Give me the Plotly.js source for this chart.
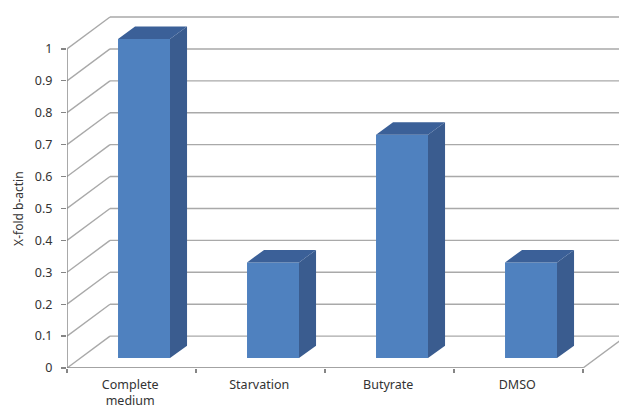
<!DOCTYPE html>
<html>
<head>
<meta charset="utf-8">
<script src="https://cdn.plot.ly/plotly-3.0.1.min.js"></script>
<style>html,body{margin:0;padding:0;background:#fff;overflow:hidden}</style>
</head>
<body>
<div id="chart" style="width:619px;height:409px"></div>
<script>
const categories = ['Complete<br>medium', 'Starvation', 'Butyrate', 'DMSO'];
const values = [1, 0.3, 0.7, 0.3];
const yTicks = [0, 0.1, 0.2, 0.3, 0.4, 0.5, 0.6, 0.7, 0.8, 0.9, 1];
const yTickText = ['0', '0.1', '0.2', '0.3', '0.4', '0.5', '0.6', '0.7', '0.8', '0.9', '1'];

const wallDX = 1 / 3, wallDY = 0.1;
const barInsetY = 0.031;
const barDX = 0.132, barDY = 0.039;
const barWidth = 0.403, barCentre = 0.597;
const xMax = 4.279, yMax = 1.122;
const nCat = categories.length;
const gridColor = '#a9a9a9', axisColor = '#858585';

const xs = categories.map((_, i) => i + barCentre);

const sideX = [], sideY = [], topX = [], topY = [];
values.forEach((v, i) => {
  const l = xs[i] - barWidth / 2, r = xs[i] + barWidth / 2;
  const b = barInsetY, t = v + barInsetY;
  sideX.push(r, r + barDX, r + barDX, r, r, null);
  sideY.push(b, b + barDY, t + barDY, t, b, null);
  topX.push(l, l + barDX, r + barDX, r, l, null);
  topY.push(t, t + barDY, t + barDY, t, t, null);
});

const line = (x0, y0, x1, y1, color, width) => ({
  type: 'line', layer: 'below', xref: 'x', yref: 'y', x0, y0, x1, y1,
  line: {color, width}
});
const shapes = [];
yTicks.forEach(t => {
  shapes.push(line(0, t, wallDX, t + wallDY, gridColor, 1.4));
  shapes.push(line(wallDX, t + wallDY, xMax, t + wallDY, gridColor, 1.4));
});
shapes.push(line(nCat, 0, nCat + wallDX, wallDY, gridColor, 1.4));
shapes.push(line(0, 0, 0, 1, axisColor, 1.4));
shapes.push(line(0, 0, nCat, 0, axisColor, 1.4));

const traces = [
  {type: 'bar', x: xs, y: values, base: barInsetY, width: barWidth,
   marker: {color: '#4f81bf', line: {width: 0}}, hoverinfo: 'skip'},
  {type: 'scatter', mode: 'lines', x: sideX, y: sideY, fill: 'toself',
   fillcolor: '#3a5c8f', line: {width: 0, color: '#3a5c8f'}, hoverinfo: 'skip'},
  {type: 'scatter', mode: 'lines', x: topX, y: topY, fill: 'toself',
   fillcolor: '#3b6098', line: {width: 0, color: '#3b6098'}, hoverinfo: 'skip'}
];

const layout = {
  width: 619, height: 409,
  margin: {l: 67, r: 0, t: 10, b: 41, pad: 0},
  paper_bgcolor: '#fff', plot_bgcolor: '#fff',
  showlegend: false,
  font: {family: '"Noto Sans", sans-serif', size: 12, color: '#333'},
  shapes,
  annotations: [{
    text: 'X-fold b-actin', xref: 'paper', yref: 'y', xanchor: 'center', yanchor: 'middle',
    x: -0.088, y: 0.5, textangle: -90, showarrow: false,
    font: {size: 12, color: '#333'}
  }],
  xaxis: {
    range: [0, xMax], showgrid: false, zeroline: false, showline: false,
    tickmode: 'array',
    tickvals: categories.map((_, i) => i + 0.49),
    ticktext: categories,
    ticks: '', tickangle: 0,
    ticklabelstandoff: 7,
    tickfont: {size: 12.5, color: '#333'},
    minor: {tickmode: 'array', tickvals: [0, 1, 2, 3, 4], ticks: 'outside', ticklen: 4, tickwidth: 1.2, tickcolor: axisColor, showgrid: false}
  },
  yaxis: {
    range: [0, yMax], showgrid: false, zeroline: false, showline: false,
    tickmode: 'array', tickvals: yTicks, ticktext: yTickText,
    ticks: 'outside', ticklen: 5, tickwidth: 1.2, tickcolor: axisColor,
    ticklabelstandoff: 6,
    tickfont: {size: 12.5, color: '#333'}
  }
};
Plotly.newPlot('chart', traces, layout, {displayModeBar: false, staticPlot: true});
</script>
</body>
</html>
